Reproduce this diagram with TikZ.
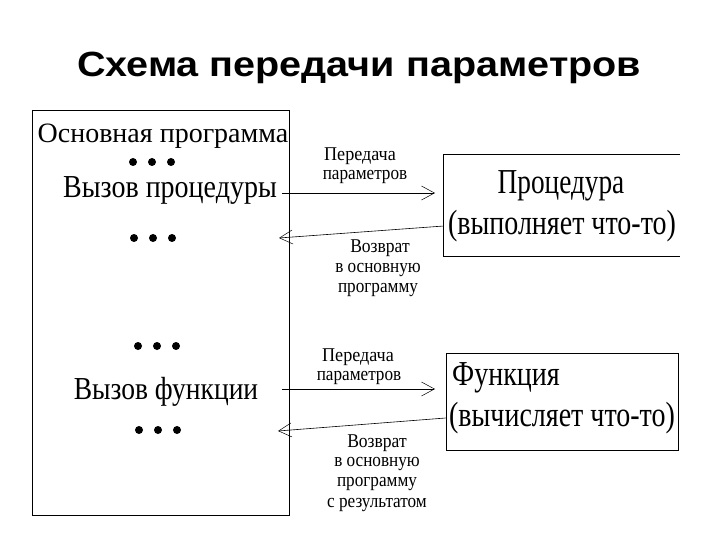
\documentclass[tikz,border=0pt]{standalone}
\usepackage{fontspec}
\setmainfont{Liberation Serif}
\newfontfamily\titlefont{Liberation Sans}
\usetikzlibrary{arrows.meta}
\newcommand{\cond}[2]{\scalebox{#1}[1]{#2}}
\begin{document}
\begin{tikzpicture}[x=1pt,y=-1pt,
  bigA/.style={inner sep=0pt,anchor=base,font=\fontsize{28}{30}\selectfont},
  bigB/.style={inner sep=0pt,anchor=base,font=\fontsize{32}{34}\selectfont},
  bigC/.style={inner sep=0pt,anchor=base,font=\fontsize{35}{38}\selectfont},
  small/.style={inner sep=0pt,anchor=base,font=\fontsize{19.5}{21}\selectfont},
  dot/.style={circle,fill=black,inner sep=0pt,minimum size=8pt},
  conn/.style={line width=0.6pt,-{Straight Barb[length=13pt,width=14pt,line width=0.5pt]}},
  frame/.style={draw,line width=0.9pt,inner sep=0pt}]
\useasboundingbox (0,0) rectangle (720,540);
% title
\node[inner sep=0pt,anchor=base,font=\titlefont\bfseries\fontsize{35}{38}\selectfont] (title) at (359,77) {\cond{1.13}{Схема передачи параметров}};
% main box
\node[frame,minimum width=257pt,minimum height=405pt] (main) at (160.5,312.5) {};
\node[bigA] (t1) at (163,143) {Основная программа};
\node[bigB] (t2) at (170,198) {\cond{0.875}{Вызов процедуры}};
\node[bigB] (t3) at (166,399) {\cond{0.86}{Вызов функции}};
\foreach \n/\cx/\cy in {a/152/162, b/153/238, c/157/346, d/158/430}{
  \node[dot] (\n1) at (\cx-19,\cy) {};
  \node[dot] (\n2) at (\cx,\cy) {};
  \node[dot] (\n3) at (\cx+19,\cy) {};
}
% procedure box (open on the right)
\node[inner sep=0pt,minimum width=236pt,minimum height=101pt] (proc) at (562,205.5) {};
\draw[line width=0.9pt] (proc.north east) -- (proc.north west) -- (proc.south west) -- (proc.south east);
\node[bigC] (p1) at (561,194) {\cond{0.78}{Процедура}};
\node[bigC] (p2) at (562,235) {\cond{0.8}{(выполняет что-то)}};
% function box
\node[frame,minimum width=232pt,minimum height=97pt] (func) at (562,401.5) {};
\node[bigC,anchor=base west] (f1) at (452,385) {\cond{0.8}{Функция}};
\node[bigC] (f2) at (562,426) {\cond{0.8}{(вычисляет что-то)}};
% connectors
\coordinate (s1) at (282,193);
\coordinate (e1) at (435,193);
\draw[conn] (s1) -- (e1);
\coordinate (s2) at (proc.west |- 0,226);
\coordinate (e2) at (279,238);
\draw[conn] (s2) -- (e2);
\coordinate (s3) at (282,389);
\coordinate (e3) at (435,389);
\draw[conn] (s3) -- (e3);
\coordinate (s4) at (func.west |- 0,418);
\coordinate (e4) at (278,431);
\draw[conn] (s4) -- (e4);
% labels
\node[small] (l1) at (360,161) {\cond{0.93}{Передача}};
\node[small] (l2) at (365,180) {\cond{0.88}{параметров}};
\node[small] (l3) at (380,252) {\cond{0.9}{Возврат}};
\node[small] (l4) at (378,272) {\cond{0.88}{в основную}};
\node[small] (l5) at (378,292) {\cond{0.88}{программу}};
\node[small] (l6) at (358,361) {\cond{0.93}{Передача}};
\node[small] (l7) at (359,380) {\cond{0.88}{параметров}};
\node[small] (l8) at (377,447) {\cond{0.9}{Возврат}};
\node[small] (l9) at (377,466) {\cond{0.88}{в основную}};
\node[small] (l10) at (377,486) {\cond{0.88}{программу}};
\node[small] (l11) at (377,507) {\cond{0.88}{с результатом}};
\end{tikzpicture}
\end{document}
